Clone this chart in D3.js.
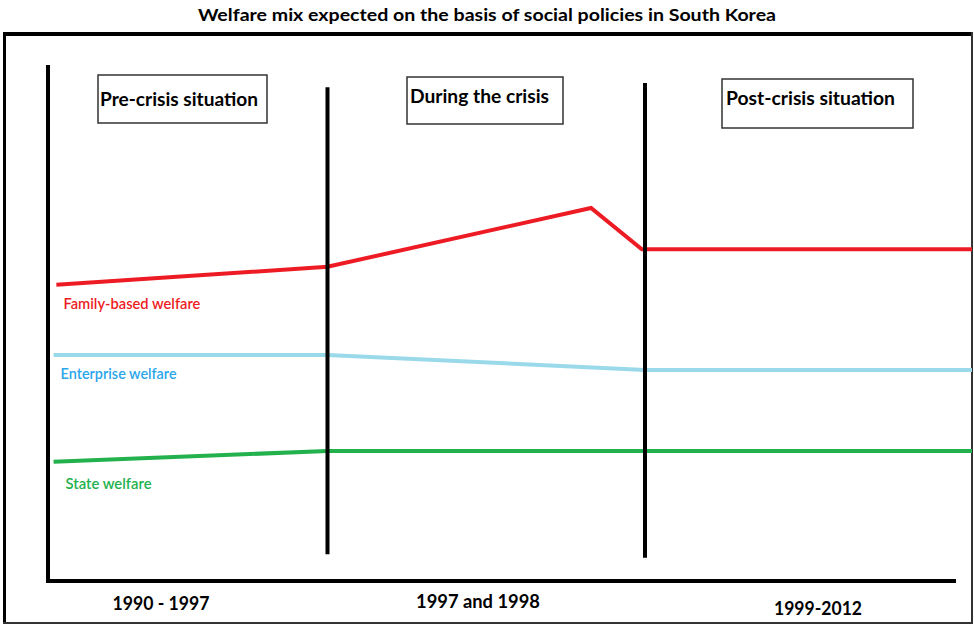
<!DOCTYPE html>
<html>
<head>
<meta charset="utf-8">
<script src="https://cdn.jsdelivr.net/npm/d3@7"></script>
<style>
  html, body { margin: 0; padding: 0; background: #fff; }
  svg { display: block; font-family: Lato, "Open Sans", sans-serif; }
</style>
</head>
<body>
<svg width="974" height="625"></svg>
<script>
// phases of the timeline, x runs 0..3 (one unit per phase)
const periods = ['Pre-crisis situation', 'During the crisis', 'Post-crisis situation'];
const periodYears = ['1990 - 1997', '1997 and 1998', '1999-2012'];
const seriesNames = ['Family-based welfare', 'Enterprise welfare', 'State welfare'];

// welfare level (arbitrary index 0..100) at phase positions
const familyX = [0.03, 1, 1.83, 1.99, 3];
const familyY = [57.4, 60.9, 72.3, 64.3, 64.3];
const enterpriseX = [0.02, 1, 2, 3];
const enterpriseY = [43.8, 43.8, 40.9, 40.9];
const stateX = [0.02, 1, 3];
const stateY = [23.1, 25.2, 25.2];

// period divider lines: [x, top, bottom]
const dividers = [[1, 95.7, 5.2], [2, 96.5, 4.5]];

const colors = ['#ed1c24', '#99d9ea', '#22b14c'];
const labelColors = ['#ed1c24', '#2aa6ea', '#22b14c'];

const svg = d3.select('svg');

const x = d3.scaleLinear()
    .domain([0, 1, 2, 3])
    .range([48, 327.5, 645, 972]);

const y = d3.scaleLinear()
    .domain([0, 100])
    .range([581, 65]);

// title
svg.append('text')
    .attr('x', 487).attr('y', 21)
    .attr('text-anchor', 'middle')
    .attr('font-size', 17).attr('font-weight', 'bold')
    .attr('textLength', 578).attr('lengthAdjust', 'spacingAndGlyphs')
    .text('Welfare mix expected on the basis of social policies in South Korea');

// outer frame
svg.append('line').attr('x1', 3).attr('x2', 973).attr('y1', 34).attr('y2', 34)
    .attr('stroke', '#000').attr('stroke-width', 4);
svg.append('line').attr('x1', 4.5).attr('x2', 4.5).attr('y1', 32).attr('y2', 624)
    .attr('stroke', '#000').attr('stroke-width', 3);
svg.append('line').attr('x1', 972).attr('x2', 972).attr('y1', 32).attr('y2', 624)
    .attr('stroke', '#333').attr('stroke-width', 2);
svg.append('line').attr('x1', 3).attr('x2', 973).attr('y1', 623).attr('y2', 623)
    .attr('stroke', '#333').attr('stroke-width', 2);

// series lines
const series = [
    {name: seriesNames[0], xs: familyX, ys: familyY},
    {name: seriesNames[1], xs: enterpriseX, ys: enterpriseY},
    {name: seriesNames[2], xs: stateX, ys: stateY},
];

const line = d3.line()
    .x(d => x(d[0]))
    .y(d => y(d[1]));

svg.selectAll('.series')
    .data(series)
    .enter()
    .append('path')
    .classed('series', true)
    .attr('d', s => line(d3.zip(s.xs, s.ys)))
    .attr('fill', 'none')
    .attr('stroke', (s, i) => colors[i])
    .attr('stroke-width', 4);

// series labels under the start of each line
const labelWidths = [137, 116, 86];
svg.selectAll('.series-label')
    .data(series)
    .enter()
    .append('text')
    .classed('series-label', true)
    .attr('x', s => x(s.xs[0]) + 7 + (s === series[2] ? 5 : 0))
    .attr('y', (s, i) => y(s.ys[0]) + (i === 2 ? 27 : 24))
    .attr('font-size', 15)
    .attr('font-weight', 600)
    .attr('fill', (s, i) => labelColors[i])
    .attr('textLength', (s, i) => labelWidths[i])
    .attr('lengthAdjust', 'spacingAndGlyphs')
    .text(s => s.name);

// axes
svg.append('line')
    .attr('x1', x(0)).attr('x2', x(0))
    .attr('y1', y(100)).attr('y2', y(0) + 2)
    .attr('stroke', '#000').attr('stroke-width', 4);
svg.append('line')
    .attr('x1', x(0) - 2).attr('x2', 956)
    .attr('y1', y(0)).attr('y2', y(0))
    .attr('stroke', '#000').attr('stroke-width', 4);

// period dividers
svg.selectAll('.divider')
    .data(dividers)
    .enter()
    .append('line')
    .classed('divider', true)
    .attr('x1', d => x(d[0])).attr('x2', d => x(d[0]))
    .attr('y1', d => y(d[1])).attr('y2', d => y(d[2]))
    .attr('stroke', '#000').attr('stroke-width', 4);

// period boxes
const boxes = [
    {x: 98, y: 75, w: 169, h: 48, tx: 100, ty: 106, tw: 158},
    {x: 407, y: 77, w: 156, h: 47, tx: 410, ty: 103, tw: 139},
    {x: 722, y: 79, w: 191, h: 49, tx: 726, ty: 105, tw: 169},
];

const boxG = svg.selectAll('.period')
    .data(periods)
    .enter()
    .append('g')
    .classed('period', true);

boxG.append('rect')
    .attr('x', (d, i) => boxes[i].x)
    .attr('y', (d, i) => boxes[i].y)
    .attr('width', (d, i) => boxes[i].w)
    .attr('height', (d, i) => boxes[i].h)
    .attr('fill', '#fff')
    .attr('stroke', '#333')
    .attr('stroke-width', 1.5);

boxG.append('text')
    .attr('x', (d, i) => boxes[i].tx)
    .attr('y', (d, i) => boxes[i].ty)
    .attr('font-size', 19).attr('font-weight', 'bold')
    .attr('textLength', (d, i) => boxes[i].tw)
    .attr('lengthAdjust', 'spacingAndGlyphs')
    .text(d => d);

// year labels under the axis
const yearPos = [[161, 610, 97], [478, 608, 124], [818, 615, 88]];
svg.selectAll('.year')
    .data(periodYears)
    .enter()
    .append('text')
    .classed('year', true)
    .attr('x', (d, i) => yearPos[i][0])
    .attr('y', (d, i) => yearPos[i][1])
    .attr('text-anchor', 'middle')
    .attr('font-size', 18).attr('font-weight', 'bold')
    .attr('textLength', (d, i) => yearPos[i][2])
    .attr('lengthAdjust', 'spacingAndGlyphs')
    .text(d => d);
</script>
</body>
</html>
